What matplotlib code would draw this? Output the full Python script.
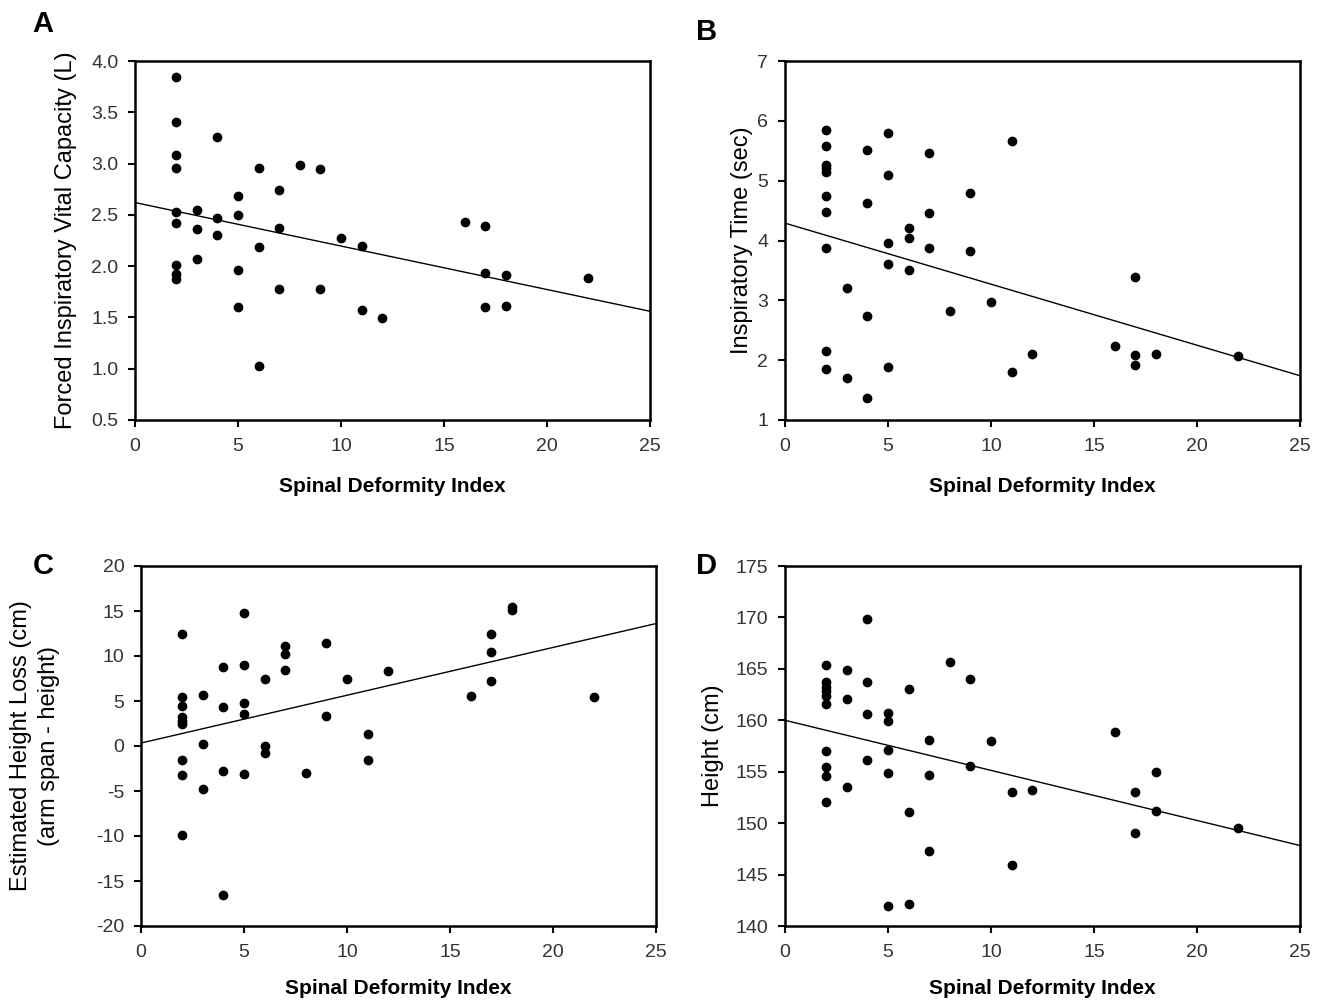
import matplotlib.pyplot as plt
import numpy as np

plt.rcParams["font.family"] = ["Liberation Sans", "DejaVu Sans"]

# Panel A: forced inspiratory vital capacity
a_x = [2, 2, 2, 2, 2, 2, 2, 2, 2,
       3, 3, 3, 4, 4, 4, 5, 5, 5, 5, 6, 6, 6,
       7, 7, 7, 8, 9, 9, 10, 11, 11, 12,
       16, 17, 17, 17, 18, 18, 22]
a_y = [3.84, 3.41, 3.08, 2.96, 2.53, 2.42, 2.01, 1.92, 1.87,
       2.55, 2.36, 2.07, 3.26, 2.47, 2.30, 2.68, 2.50, 1.96, 1.60, 2.96, 2.19, 1.03,
       2.74, 2.37, 1.78, 2.99, 2.95, 1.78, 2.27, 2.20, 1.57, 1.49,
       2.43, 2.39, 1.93, 1.60, 1.91, 1.61, 1.88]
a_fit = (2.62, -0.0424)

# Panel B: inspiratory time
b_x = [2, 2, 2, 2, 2, 2, 2, 2, 2, 2,
       3, 3, 4, 4, 4, 4, 5, 5, 5, 5, 5, 6, 6, 6,
       7, 7, 7, 8, 9, 9, 10, 11, 11, 12,
       16, 17, 17, 17, 18, 22]
b_y = [5.85, 5.58, 5.26, 5.21, 5.15, 4.74, 4.48, 3.88, 2.15, 1.85,
       3.21, 1.70, 5.51, 4.63, 2.73, 1.37, 5.79, 5.10, 3.95, 3.61, 1.89, 4.21, 4.05, 3.50,
       5.46, 4.46, 3.87, 2.82, 4.80, 3.83, 2.98, 5.67, 1.81, 2.10,
       2.23, 3.39, 2.08, 1.92, 2.11, 2.07]
b_fit = (4.29, -0.102)

# Panel C: estimated height loss
c_x = [2, 2, 2, 2, 2, 2, 2, 2, 2,
       3, 3, 3, 4, 4, 4, 4, 5, 5, 5, 5, 5, 6, 6, 6,
       7, 7, 7, 8, 9, 9, 10, 11, 11, 12,
       16, 17, 17, 17, 18, 18, 22]
c_y = [12.5, 5.4, 4.4, 3.2, 2.8, 2.5, -1.6, -3.2, -9.9,
       5.7, 0.2, -4.8, 8.8, 4.3, -2.8, -16.6, 14.8, 9.0, 4.8, 3.6, -3.1, 7.4, 0.0, -0.8,
       11.1, 10.2, 8.4, -3.0, 11.5, 3.3, 7.5, 1.3, -1.6, 8.3,
       5.6, 12.5, 10.5, 7.2, 15.4, 15.1, 5.5]
c_fit = (0.33, 0.531)

# Panel D: height
d_x = [2, 2, 2, 2, 2, 2, 2, 2, 2, 2,
       3, 3, 3, 4, 4, 4, 4, 5, 5, 5, 5, 5, 6, 6, 6,
       7, 7, 7, 8, 9, 9, 10, 11, 11, 12,
       16, 17, 17, 18, 18, 22]
d_y = [165.4, 163.7, 163.2, 162.8, 162.4, 161.6, 157.0, 155.5, 154.6, 152.1,
       164.9, 162.1, 153.5, 169.8, 163.7, 160.6, 156.1, 160.7, 159.9, 157.1, 154.9, 141.9,
       163.0, 151.1, 142.1, 158.1, 154.7, 147.3, 165.7, 164.0, 155.6, 158.0, 153.0, 145.9, 153.2,
       158.9, 153.0, 149.0, 155.0, 151.2, 149.5]
d_fit = (160.0, -0.487)

x_ticks = [0, 5, 10, 15, 20, 25]
a_ticks = [0.5, 1.0, 1.5, 2.0, 2.5, 3.0, 3.5, 4.0]
b_ticks = [1, 2, 3, 4, 5, 6, 7]
c_ticks = [-20, -15, -10, -5, 0, 5, 10, 15, 20]
d_ticks = [140, 145, 150, 155, 160, 165, 170, 175]

W, H = 1321, 1001
fig = plt.figure(figsize=(W / 100, H / 100), dpi=100)


def px_axes(left, right, top, bottom):
    return fig.add_axes([left / W, 1 - bottom / H, (right - left) / W, (bottom - top) / H])


def style(ax, xs, ys, fit, yticks, ylabel, yfmt, ylab_x, xlab_y):
    ax.plot(xs, ys, "o", color="black", ms=6.0, mec="black")
    xl = np.array([0, 25])
    ax.plot(xl, fit[0] + fit[1] * xl, color="black", lw=1.0)
    ax.set_xlim(0, 25)
    ax.set_ylim(yticks[0], yticks[-1])
    ax.set_xticks(x_ticks)
    ax.set_yticks(yticks)
    ax.set_yticklabels([yfmt.format(t) for t in yticks])
    for s in ax.spines.values():
        s.set_linewidth(1.8)
    ax.tick_params(direction="out", length=5, width=1.5, labelsize=14,
                   labelcolor="#333333")
    ax.tick_params(axis="y", pad=7)
    ax.tick_params(axis="x", pad=8)
    ax.set_xlabel("Spinal Deformity Index", fontsize=15, fontweight="bold", va="center")
    ax.set_ylabel(ylabel, fontsize=17, va="center", linespacing=1.3)
    ax.xaxis.set_label_coords(0.5, xlab_y)
    ax.yaxis.set_label_coords(ylab_x, 0.5)


ax_a = px_axes(135, 650, 61, 420)
style(ax_a, a_x, a_y, a_fit, a_ticks, "Forced Inspiratory Vital Capacity (L)", "{:.1f}",
      (66 - 135) / 515, (420 - 486) / 359)
ax_b = px_axes(785, 1300, 61, 420)
style(ax_b, b_x, b_y, b_fit, b_ticks, "Inspiratory Time (sec)", "{:d}",
      (742 - 785) / 515, (420 - 486) / 359)
ax_c = px_axes(141, 656, 566, 926)
style(ax_c, c_x, c_y, c_fit, c_ticks, "Estimated Height Loss (cm)\n(arm span - height)", "{:d}",
      (35 - 141) / 515, (926 - 989) / 360)
ax_d = px_axes(785, 1300, 566, 926)
style(ax_d, d_x, d_y, d_fit, d_ticks, "Height (cm)", "{:d}",
      (713 - 785) / 515, (926 - 989) / 360)

for letter, (lx, ly) in {"A": (32, 24), "B": (696, 32), "C": (33, 566), "D": (696, 566)}.items():
    fig.text(lx / W, 1 - ly / H, letter, fontsize=21, fontweight="bold", va="center", ha="left")

fig.savefig("out.png", dpi=100, facecolor="white")
